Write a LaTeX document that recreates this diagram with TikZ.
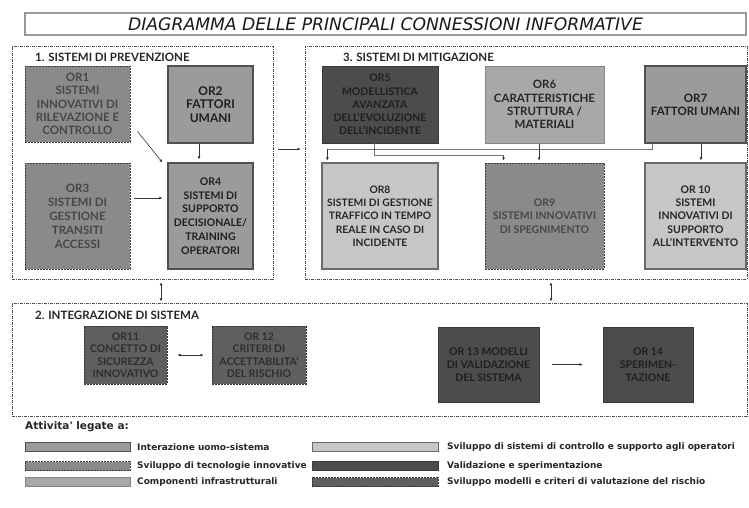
\documentclass[tikz,border=0pt]{standalone}
\usepackage{fontspec}
\setmainfont{Lato}
\newfontfamily\legfont{DejaVu Sans}
\usetikzlibrary{arrows.meta,calc}
\definecolor{gHum}{HTML}{9B9B9B}
\definecolor{gHumB}{HTML}{505050}
\definecolor{gTech}{HTML}{8A8A8A}
\definecolor{gTechB}{HTML}{404040}
\definecolor{gInf}{HTML}{A8A8A8}
\definecolor{gInfB}{HTML}{858585}
\definecolor{gCtl}{HTML}{C6C6C6}
\definecolor{gCtlB}{HTML}{6A6A6A}
\definecolor{gVal}{HTML}{4C4C4C}
\definecolor{gValB}{HTML}{3A3A3A}
\definecolor{gRisk}{HTML}{5F5F5F}
\definecolor{gRiskB}{HTML}{353535}
\definecolor{gSec}{HTML}{505050}
\tikzset{
  orbox/.style={rectangle, inner sep=1pt, align=center, font=\bfseries\fontsize{11}{13.3}\selectfont},
  human/.style={orbox, fill=gHum, draw=gHumB, line width=1.2pt, text=black!88},
  tech/.style={orbox, fill=gTech, draw=gTechB, line width=1pt, dash pattern=on 2pt off 1pt, text=black!72},
  infra/.style={orbox, fill=gInf, draw=gInfB, line width=1pt, text=black!85},
  ctrl/.style={orbox, fill=gCtl, draw=gCtlB, line width=1.2pt, text=black!85},
  valid/.style={orbox, fill=gVal, draw=gValB, line width=0.8pt, text=black!88},
  risk/.style={orbox, fill=gRisk, draw=gRiskB, line width=1pt, dash pattern=on 2pt off 1pt, text=black!82},
  section/.style={rectangle, draw=gSec, line width=0.8pt, dash pattern=on 3pt off 1pt on 1pt off 1pt, inner sep=0pt},
  seclabel/.style={anchor=west, inner sep=0pt, font=\bfseries\fontsize{11.5}{13}\selectfont, text=black!85},
  conn/.style={draw=black!80, line width=0.6pt, -{Latex[length=3pt,width=3pt]}},
  biconn/.style={draw=black!80, line width=0.6pt, {Latex[length=3pt,width=3pt]}-{Latex[length=3pt,width=3pt]}},
  link/.style={draw=black!55, line width=0.6pt},
  legtext/.style={anchor=west, inner sep=0pt, font=\legfont\bfseries\fontsize{9}{10}\selectfont, text=black!85},
}
\begin{document}
\begin{tikzpicture}[x=1pt,y=-1pt]
\useasboundingbox (0,0) rectangle (749,507);
% title
\node[draw=black!40, line width=1.4pt, minimum width=721pt, minimum height=22pt, inner sep=0pt,
      font=\legfont\itshape\fontsize{17.2}{18}\selectfont, text=black!90] (title) at (385.5,24) {DIAGRAMMA DELLE PRINCIPALI CONNESSIONI INFORMATIVE};
% sections
\node[section, minimum width=261pt, minimum height=233pt] (S1) at (142.5,162.5) {};
\node[section, minimum width=442pt, minimum height=233pt] (S3) at (526,162.5) {};
\node[section, minimum width=735pt, minimum height=113pt] (S2) at (379.5,359.5) {};
\node[seclabel] (L1) at (35,57) {1. SISTEMI DI PREVENZIONE};
\node[seclabel] (L3) at (343,57) {3. SISTEMI DI MITIGAZIONE};
\node[seclabel] (L2) at (35,315) {2. INTEGRAZIONE DI SISTEMA};
% section 1
\node[tech, minimum width=105pt, minimum height=76pt, font=\bfseries\fontsize{11.5}{13.3}\selectfont] (OR1) at (77.5,104) {OR1\\SISTEMI\\INNOVATIVI DI\\RILEVAZIONE E\\CONTROLLO};
\node[human, minimum width=85pt, minimum height=77pt, font=\bfseries\fontsize{12}{13.3}\selectfont] (OR2) at (210.5,104.5) {OR2\\FATTORI\\UMANI};
\node[tech, minimum width=105pt, minimum height=106pt, font=\bfseries\fontsize{11.5}{14}\selectfont] (OR3) at (77.5,216) {OR3\\SISTEMI DI\\GESTIONE\\TRANSITI\\ACCESSI};
\node[human, minimum width=85pt, minimum height=106pt, font=\bfseries\fontsize{10.5}{13.8}\selectfont] (OR4) at (210.5,216) {OR4\\SISTEMI DI\\SUPPORTO\\DECISIONALE/\\TRAINING\\OPERATORI};
% section 3
\node[valid, minimum width=116pt, minimum height=77pt, font=\bfseries\fontsize{10.5}{13.3}\selectfont] (OR5) at (380,104.5) {OR5\\MODELLISTICA\\AVANZATA\\DELL'EVOLUZIONE\\DELL'INCIDENTE};
\node[infra, minimum width=119pt, minimum height=77pt, font=\bfseries\fontsize{11.5}{13.3}\selectfont] (OR6) at (544.5,104.5) {OR6\\CARATTERISTICHE\\STRUTTURA /\\MATERIALI};
\node[human, minimum width=101pt, minimum height=77pt, font=\bfseries\fontsize{11.5}{13.3}\selectfont] (OR7) at (695.5,104.5) {OR7\\FATTORI UMANI};
\node[ctrl, minimum width=116pt, minimum height=106pt, font=\bfseries\fontsize{10.3}{13.3}\selectfont] (OR8) at (380,216) {OR8\\SISTEMI DI GESTIONE\\TRAFFICO IN TEMPO\\REALE IN CASO DI\\INCIDENTE};
\node[tech, minimum width=119pt, minimum height=106pt, font=\bfseries\fontsize{10.5}{13.3}\selectfont] (OR9) at (544.5,216) {OR9\\SISTEMI INNOVATIVI\\DI SPEGNIMENTO};
\node[ctrl, minimum width=101pt, minimum height=106pt, font=\bfseries\fontsize{10.5}{13.3}\selectfont] (OR10) at (695.5,216) {OR 10\\SISTEMI\\INNOVATIVI DI\\SUPPORTO\\ALL'INTERVENTO};
% section 2
\node[risk, minimum width=83pt, minimum height=58pt, font=\bfseries\fontsize{10.5}{12.5}\selectfont] (OR11) at (125.5,355) {OR11\\CONCETTO DI\\SICUREZZA\\INNOVATIVO};
\node[risk, minimum width=94pt, minimum height=58pt, font=\bfseries\fontsize{10.5}{12.5}\selectfont] (OR12) at (259,355) {OR 12\\CRITERI DI\\ACCETTABILITA'\\DEL RISCHIO};
\node[valid, minimum width=101pt, minimum height=75pt, font=\bfseries\fontsize{10.5}{13}\selectfont] (OR13) at (488.5,364.5) {OR 13 MODELLI\\DI VALIDAZIONE\\DEL SISTEMA};
\node[valid, minimum width=90pt, minimum height=75pt, font=\bfseries\fontsize{10.5}{13}\selectfont] (OR14) at (648,364.5) {OR 14\\SPERIMEN-\\TAZIONE};
% connectors section 1
\draw[conn] ($(OR1.south east)+(7,-11)$) -- ($(OR4.north west)+(-5,0)$);
\draw[conn] ($(OR2.south)+(-11.5,0)$) -- ($(OR4.north)+(-11.5,-3)$);
\draw[conn] ($(OR3.east)+(3,-18)$) -- ($(OR4.west)+(-5,-18)$);
% section links
\draw[conn] ($(S1.east)+(5,-13.5)$) -- ($(S3.west)+(-4,-13.5)$);
\draw[biconn] ($(S1.south)+(18.5,3)$) -- ($(S1.south)+(18.5,22)$) coordinate (S12);
\draw[biconn] ($(S3.south)+(25,3)$) -- ($(S3.south)+(25,22)$) coordinate (S32);
% connectors section 3
\draw[link] ($(OR7.south west)+(8,0)$) |- ($(OR8.north west)+(6,-13)$);
\draw[conn] ($(OR8.north west)+(6,-13)$) -- ($(OR8.north west)+(6,-2)$);
\draw[link] ($(OR5.south)+(-6,0)$) |- ($(OR9.north west)+(19,-7)$);
\draw[conn] ($(OR9.north west)+(19,-7)$) -- ($(OR9.north west)+(19,-2)$);
\draw[conn] ($(OR6.south)+(-5.5,0)$) -- ($(OR9.north)+(-5.5,-2)$);
\draw[conn] ($(OR7.south)+(5.5,0)$) -- ($(OR10.north)+(5.5,-2)$);
% connectors section 2
\draw[biconn] ($(OR11.east)+(10,0)$) -- ($(OR12.west)+(-8,0)$);
\draw[conn] ($(OR13.east)+(13,0)$) -- ($(OR14.west)+(-20,0)$);
% legend
\node[anchor=west, inner sep=0pt, font=\legfont\bfseries\fontsize{10.5}{12}\selectfont, text=black!85] (LT) at (25,427) {Attivita' legate a:};
\node[human, minimum width=105pt, minimum height=9pt, line width=1pt] (K1) at (77.5,447) {};
\node[tech, minimum width=105pt, minimum height=9pt] (K2) at (77.5,466) {};
\node[infra, minimum width=105pt, minimum height=9pt] (K3) at (77.5,482) {};
\node[ctrl, minimum width=126pt, minimum height=9pt, line width=1pt] (K4) at (375,447) {};
\node[valid, minimum width=126pt, minimum height=9pt] (K5) at (375,466) {};
\node[risk, minimum width=126pt, minimum height=9pt] (K6) at (375,482) {};
\node[legtext] (T1) at (137,447) {Interazione uomo-sistema};
\node[legtext] (T2) at (137,466) {Sviluppo di tecnologie innovative};
\node[legtext] (T3) at (137,482) {Componenti infrastrutturali};
\node[legtext] (T4) at (447,447) {Sviluppo di sistemi di controllo e supporto agli operatori};
\node[legtext] (T5) at (447,466) {Validazione e sperimentazione};
\node[legtext] (T6) at (447,482) {Sviluppo modelli e criteri di valutazione del rischio};
\end{tikzpicture}
\end{document}
